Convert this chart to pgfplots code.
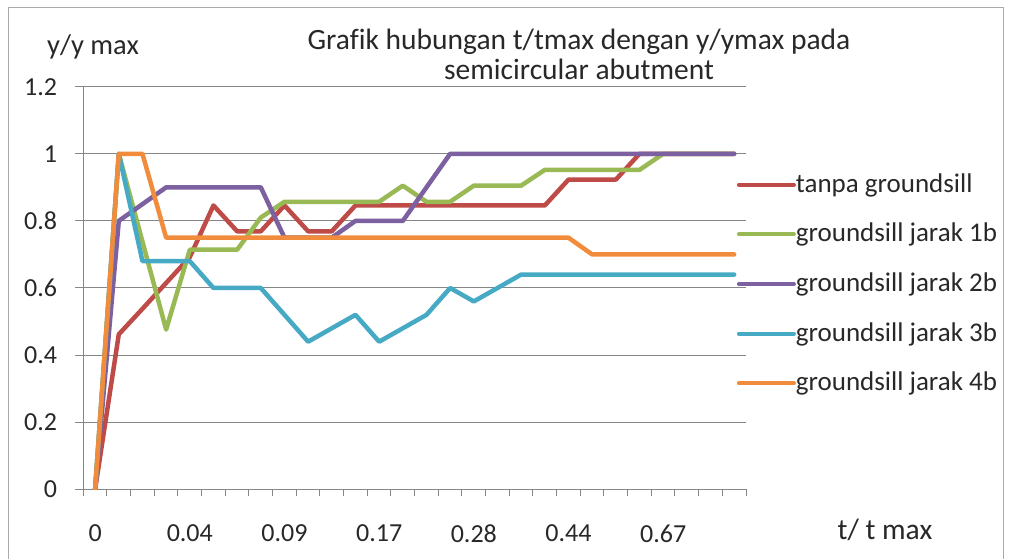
\documentclass[border=0pt]{standalone}
\usepackage{pgfplots}
\pgfplotsset{compat=1.18}
\usepackage{fontspec}
\setmainfont{Carlito}[Ligatures=NoCommon]
\definecolor{cred}{RGB}{190,75,72}
\definecolor{cgreen}{RGB}{152,185,84}
\definecolor{cpurple}{RGB}{125,96,160}
\definecolor{cteal}{RGB}{70,170,197}
\definecolor{corange}{RGB}{240,140,60}
\definecolor{cgrid}{RGB}{134,134,134}
\definecolor{ctext}{RGB}{40,40,40}
\begin{document}
\fontsize{26}{31}\selectfont
\begin{tikzpicture}
\path (0pt,0pt) rectangle (1010pt,559pt);
\draw[cgrid!70, line width=1pt] (8pt,0pt) -- (8pt,551pt) -- (1003pt,551pt) -- (1003pt,0pt);
\begin{axis}[
  at={(83.3pt,69.7pt)}, anchor=south west,
  scale only axis, width=662.7pt, height=402.6pt,
  xmin=-0.5, xmax=27.5, ymin=0, ymax=1.2,
  axis x line*=bottom, axis y line*=left,
  axis line style={draw=cgrid, line width=1pt},
  ymajorgrids, grid style={cgrid, line width=1pt},
  ytick={0,0.2,0.4,0.6,0.8,1,1.2},
  yticklabels={0,0.2,0.4,0.6,0.8,1,1.2},
  xtick={0,4,8,12,16,20,24},
  xticklabels={0,0.04,0.09,0.17,0.28,0.44,0.67},
  minor xtick={-0.5,0.5,...,27.5},
  tick align=outside,
  major tick length=8pt, minor tick length=7pt,
  major x tick style={draw=none},
  minor x tick style={cgrid, line width=1pt},
  ytick style={cgrid, line width=1pt},
  yticklabel style={anchor=east, inner sep=0pt, xshift=-18pt, text=ctext},
  xticklabel style={anchor=north, inner sep=0pt, yshift=-27pt, text=ctext},
  legend style={at={(axis description cs:0.986,0.79)}, anchor=north west, draw=none, fill=none,
    text=ctext, row sep=23pt, inner sep=0pt, font=\fontsize{27}{31}\selectfont,
    nodes={inner xsep=0pt, inner ysep=2pt}},
  legend cell align=left,
  legend image code/.code={\draw[#1, line width=4pt] (0pt,0pt) -- (55pt,0pt);},
  every axis plot/.append style={line width=4.5pt, line join=round, line cap=round},
]
\addplot[cred] coordinates {(0,0) (1,0.462) (2,0.538) (3,0.615) (4,0.692) (5,0.846) (6,0.769) (7,0.769) (8,0.846) (9,0.769) (10,0.769) (11,0.846) (12,0.846) (13,0.846) (14,0.846) (15,0.846) (16,0.846) (17,0.846) (18,0.846) (19,0.846) (20,0.923) (21,0.923) (22,0.923) (23,1) (24,1) (25,1) (26,1) (27,1)};
\addlegendentry{tanpa groundsill}
\addplot[cgreen] coordinates {(0,0) (1,1) (2,0.738) (3,0.476) (4,0.714) (5,0.714) (6,0.714) (7,0.810) (8,0.857) (9,0.857) (10,0.857) (11,0.857) (12,0.857) (13,0.905) (14,0.857) (15,0.857) (16,0.905) (17,0.905) (18,0.905) (19,0.952) (20,0.952) (21,0.952) (22,0.952) (23,0.952) (24,1) (25,1) (26,1) (27,1)};
\addlegendentry{groundsill jarak 1b}
\addplot[cpurple] coordinates {(0,0) (1,0.8) (2,0.85) (3,0.9) (4,0.9) (5,0.9) (6,0.9) (7,0.9) (8,0.75) (9,0.75) (10,0.75) (11,0.8) (12,0.8) (13,0.8) (14,0.9) (15,1) (16,1) (17,1) (18,1) (19,1) (20,1) (21,1) (22,1) (23,1) (24,1) (25,1) (26,1) (27,1)};
\addlegendentry{groundsill jarak 2b}
\addplot[cteal] coordinates {(0,0) (1,1) (2,0.68) (3,0.68) (4,0.68) (5,0.6) (6,0.6) (7,0.6) (8,0.52) (9,0.44) (10,0.48) (11,0.52) (12,0.44) (13,0.48) (14,0.52) (15,0.6) (16,0.56) (17,0.6) (18,0.64) (19,0.64) (20,0.64) (21,0.64) (22,0.64) (23,0.64) (24,0.64) (25,0.64) (26,0.64) (27,0.64)};
\addlegendentry{groundsill jarak 3b}
\addplot[corange] coordinates {(0,0) (1,1) (2,1) (3,0.75) (4,0.75) (5,0.75) (6,0.75) (7,0.75) (8,0.75) (9,0.75) (10,0.75) (11,0.75) (12,0.75) (13,0.75) (14,0.75) (15,0.75) (16,0.75) (17,0.75) (18,0.75) (19,0.75) (20,0.75) (21,0.7) (22,0.7) (23,0.7) (24,0.7) (25,0.7) (26,0.7) (27,0.7)};
\addlegendentry{groundsill jarak 4b}
\end{axis}
\node[anchor=base west, inner sep=0pt, text=ctext, font=\fontsize{28.5}{31}\selectfont] at (47pt,504pt) {y/y max};
\node[anchor=base, inner sep=0pt, text=ctext, font=\fontsize{29.5}{31}\selectfont] at (579pt,509pt) {Grafik hubungan t/tmax dengan y/ymax pada};
\node[anchor=base, inner sep=0pt, text=ctext, font=\fontsize{29.5}{31}\selectfont] at (579pt,479pt) {semicircular abutment};
\node[anchor=base, inner sep=0pt, text=ctext, font=\fontsize{29.5}{31}\selectfont] at (885pt,19pt) {t/ t max};
\end{tikzpicture}
\end{document}
